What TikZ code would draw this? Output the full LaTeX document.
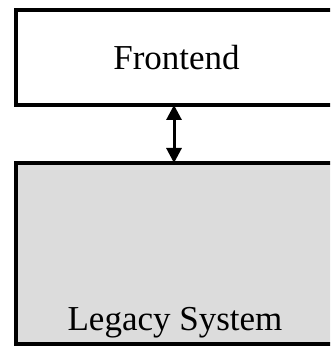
\documentclass[tikz,border=0pt]{standalone}
\usepackage{fontspec}
\setmainfont{Liberation Serif}
\usetikzlibrary{arrows.meta}
\definecolor{legacygray}{HTML}{DCDCDC}
\begin{document}
\begin{tikzpicture}[x=1pt,y=-1pt,
  boxstyle/.style={draw=black,line width=4.5pt,outer sep=0pt,inner sep=0pt,anchor=north west},
  labelstyle/.style={font=\fontsize{35}{40}\selectfont,anchor=base,inner sep=0pt},
  linkstyle/.style={line width=3pt,{Triangle[length=15pt,width=15pt]}-{Triangle[length=15pt,width=15pt]}}]
\useasboundingbox (0,0) rectangle (330,347);
\begin{scope}
\clip (0,0) rectangle (330,347);
\node[boxstyle,fill=white,minimum width=330pt,minimum height=95pt] (front) at (16,10) {};
\node[boxstyle,fill=legacygray,minimum width=330pt,minimum height=181pt] (legacy) at (16,163) {};
\end{scope}
\node[labelstyle] (ftext) at (176.5,69.5) {Frontend};
\node[labelstyle] (ltext) at (175,330) {Legacy System};
\coordinate (a1) at (174,105);
\coordinate (a2) at (174,163);
\draw[linkstyle] (front.south -| a1) -- (legacy.north -| a2);
\end{tikzpicture}
\end{document}
